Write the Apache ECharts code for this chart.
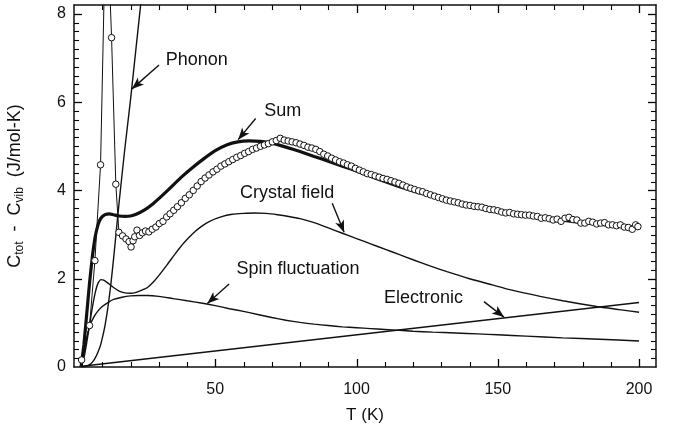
<!DOCTYPE html>
<html>
<head>
<meta charset="utf-8">
<script src="https://cdn.jsdelivr.net/npm/echarts@6/dist/echarts.min.js"></script>
<style>
  html, body { margin: 0; padding: 0; background: #fff; }
  #chart { width: 675px; height: 439px; }
</style>
</head>
<body>
<div id="chart"></div>
<script>
// measured C_tot - C_vib, [T (K), C (J/mol-K)]
const measured = [
  [2.7,0.16],[5.5,0.94],[7.4,2.41],[9.4,4.58],[11.4,10.7],[13.3,7.46],[14.8,4.14],
  [15.9,3.05],[17.2,2.97],[18.4,2.9],[19.5,2.84],[20.2,2.72],[20.9,2.86],[21.5,2.95],
  [22.3,3.1],[23.2,2.98],[24.2,3.04],[25.3,3.08],[26.5,3.06],[27.7,3.12],[29,3.17],
  [30.2,3.25],[31.5,3.3],[32.8,3.4],[34,3.47],[35.3,3.55],[36.6,3.63],[38,3.72],
  [39.4,3.82],[40.8,3.9],[42.2,4.0],[43.6,4.1],[45,4.2],[46.4,4.28],[47.8,4.35],
  [49.2,4.42],[50.6,4.48],[52,4.55],[53.4,4.6],[54.8,4.65],[56.2,4.7],[57.6,4.75],
  [59,4.79],[60.4,4.84],[61.8,4.88],[63.2,4.93],[64.6,4.96],[66,5.0],[67.4,5.03],
  [68.8,5.06],[70.2,5.1],[71.6,5.13],[73,5.18],[74.4,5.14],[75.8,5.12],[77.2,5.1],
  [78.6,5.08],[80,5.05],[81.4,5.02],[82.8,4.98],[84.2,4.96],[85.6,4.93],[87,4.88],
  [88.4,4.82],[89.8,4.78],[91.2,4.73],[92.6,4.69],[94,4.65],[95.4,4.62],[96.8,4.58],
  [98.2,4.55],[99.6,4.5],[101,4.46],[102.4,4.42],[103.8,4.38],[105.2,4.36],[106.6,4.33],
  [108,4.3],[109.4,4.27],[110.8,4.25],[112.2,4.22],[113.6,4.19],[115,4.16],[116.4,4.12],
  [117.8,4.08],[119.2,4.05],[120.6,4.02],[122,3.99],[123.4,3.97],[124.8,3.93],[126.2,3.9],
  [127.6,3.87],[129,3.84],[130.4,3.81],[131.8,3.78],[133.2,3.76],[134.6,3.74],[136,3.72],
  [137.4,3.69],[138.8,3.67],[140.2,3.66],[141.6,3.64],[143,3.63],[144.4,3.62],[145.8,3.59],
  [147.2,3.57],[148.6,3.56],[150,3.54],[151.4,3.51],[152.8,3.49],[154.2,3.5],[155.6,3.47],
  [157,3.46],[158.4,3.45],[159.8,3.44],[161.2,3.44],[162.6,3.42],[164,3.41],[165.4,3.37],
  [166.8,3.38],[168.2,3.36],[169.6,3.33],[171,3.35],[172.4,3.3],[173.8,3.37],[175.2,3.39],
  [176.6,3.34],[178,3.33],[179.4,3.26],[180.8,3.26],[182.2,3.3],[183.6,3.28],[185,3.24],
  [186.4,3.26],[187.8,3.27],[189.2,3.22],[190.6,3.22],[192,3.2],[193.4,3.22],[194.8,3.17],
  [196.2,3.16],[197.6,3.12],[198.8,3.22],[199.6,3.18]
];

const sumFit = [
  [2.5,0],[3.5,0.5],[4.5,1.2],[5.5,1.9],[6.5,2.5],[7.5,2.95],[8.5,3.22],[9.5,3.37],
  [11,3.45],[12.5,3.47],[14,3.45],[16,3.42],[18,3.41],[20,3.42],[22,3.46],[25,3.56],
  [28,3.7],[31,3.87],[34,4.05],[38,4.3],[42,4.52],[46,4.72],[50,4.9],[54,5.03],
  [58,5.1],[62,5.12],[66,5.11],[70,5.07],[75,4.98],[80,4.88],[85,4.77],[90,4.66],
  [95,4.55],[100,4.44],[105,4.32],[110,4.2],[115,4.09],[120,3.99],[125,3.9],[130,3.81],
  [137,3.7],[145,3.6],[150,3.54],[160,3.44],[170,3.35],[180,3.27],[190,3.21],[200,3.17]
];

const crystalField = [
  [2.5,0],[3.5,0.2],[4.5,0.55],[5.5,0.95],[6.5,1.35],[7.5,1.68],[8.5,1.9],[9.5,1.98],
  [10.5,1.97],[12,1.9],[14,1.8],[16,1.72],[18,1.68],[20,1.67],[22,1.69],[24,1.74],
  [26,1.8],[28,1.92],[30,2.07],[33,2.32],[36,2.58],[39,2.82],[42,3.02],[45,3.18],
  [48,3.3],[52,3.4],[56,3.46],[60,3.48],[64,3.49],[68,3.48],[72,3.45],[76,3.41],
  [80,3.36],[85,3.27],[90,3.15],[95,3.03],[100,2.91],[105,2.79],[110,2.67],[115,2.55],
  [120,2.43],[126,2.29],[132,2.16],[140,2.0],[148,1.86],[155,1.74],[165,1.6],[173,1.5],
  [185,1.37],[193,1.3],[200,1.24]
];

const spinFluct = [
  [2.5,0],[3.5,0.3],[4.5,0.65],[5.5,0.92],[7,1.13],[8.5,1.27],[10,1.37],[12,1.46],
  [14,1.53],[17,1.58],[20,1.61],[23,1.62],[26,1.62],[30,1.6],[35,1.55],[40,1.5],
  [45,1.45],[50,1.39],[55,1.32],[60,1.26],[65,1.19],[70,1.12],[75,1.06],[80,1.01],
  [85,0.97],[90,0.94],[95,0.91],[100,0.89],[105,0.87],[110,0.85],[115,0.83],[120,0.81],
  [127,0.79],[135,0.77],[143,0.75],[150,0.73],[160,0.7],[173,0.66],[186,0.63],[200,0.59]
];

const electronic = [[2,0.01],[200,1.46]];

const phonon = [
  [3,0],[5,0.03],[7,0.15],[9,0.42],[10,0.65],[11,0.95],[12,1.35],[13,1.85],[14,2.45],
  [15,3.1],[16,3.75],[18,4.95],[20,6.05],[22,7.25],[24,8.45]
];

// tick values (major ones get labels)
const xMajorTicks = [50, 100, 150, 200];
const xMinorTicks = [10, 20, 30, 40, 60, 70, 80, 90, 110, 120, 130, 140, 160, 170, 180, 190];
const yMajorTicks = [2, 4, 6, 8];
const yMinorTicks = [0.2, 0.4, 0.6, 0.8, 1, 1.2, 1.4, 1.6, 1.8, 2.2, 2.4, 2.6, 2.8, 3, 3.2, 3.4,
  3.6, 3.8, 4.2, 4.4, 4.6, 4.8, 5, 5.2, 5.4, 5.6, 5.8, 6.2, 6.4, 6.6, 6.8, 7, 7.2, 7.4, 7.6, 7.8];

// annotation labels and arrows, in data units
const notes = [
  { text: 'Phonon',           at: [32.5, 6.95], from: [30.1, 6.84], to: [20.5, 6.3] },
  { text: 'Sum',              at: [67.3, 5.79], from: [64.3, 5.63], to: [58.1, 5.15] },
  { text: 'Crystal field',    at: [58.8, 3.94], from: [91.4, 3.71], to: [95.6, 3.05] },
  { text: 'Spin fluctuation', at: [57.5, 2.22], from: [54.9, 1.88], to: [47.2, 1.44] },
  { text: 'Electronic',       at: [109.7, 1.57], from: [145.1, 1.48], to: [152.2, 1.13] }
];

const font = '"Liberation Sans", Arial, Helvetica, sans-serif';
const ink = '#111';

const chart = echarts.init(document.getElementById('chart'));

function frameAxis(extra) {
  return Object.assign({
    type: 'value',
    axisLine: { show: true, onZero: false, lineStyle: { color: ink, width: 1.5 } },
    axisTick: { show: false },
    minorTick: { show: false },
    splitLine: { show: false },
    axisLabel: { show: false }
  }, extra);
}

const xBase = { min: 0, max: 206, interval: 50 };
const yBase = { min: 0, max: 8.2, interval: 2 };

const thin = { color: ink, width: 1.4 };

chart.setOption({
  animation: false,
  backgroundColor: '#fff',
  // keep the plot box fixed; don't let ECharts shrink it to fit the axis name
  grid: { left: 74, right: 19, top: 5, bottom: 72, containLabel: false, outerBoundsMode: 'none' },
  xAxis: [
    frameAxis(Object.assign({}, xBase, {
      position: 'bottom',
      axisLabel: {
        show: true, margin: 15, color: ink, fontFamily: font, fontSize: 16,
        showMinLabel: false, showMaxLabel: false,
        formatter: v => (v % 50 === 0 && v > 0 ? String(v) : '')
      },
      name: 'T (K)', nameLocation: 'middle', nameGap: 40,
      nameTextStyle: { color: ink, fontFamily: font, fontSize: 17 }
    })),
    frameAxis(Object.assign({}, xBase, { position: 'top' }))
  ],
  yAxis: [
    frameAxis(Object.assign({}, yBase, {
      position: 'left',
      axisLabel: {
        show: true, margin: 8, color: ink, fontFamily: font, fontSize: 16,
        showMaxLabel: false,
        formatter: v => (Math.abs(v % 2) < 1e-9 ? String(v) : '')
      },
      name: '{m|C}{s|tot}{m|  -  C}{s|vib}{m|  (J/mol-K)}',
      nameLocation: 'middle', nameRotate: 90, nameGap: 48,
      nameTextStyle: {
        color: ink, fontFamily: font, fontSize: 18,
        rich: {
          m: { color: ink, fontFamily: font, fontSize: 18, lineHeight: 22 },
          s: { color: ink, fontFamily: font, fontSize: 12, lineHeight: 22, padding: [9, 0, 0, 0] }
        }
      }
    })),
    frameAxis(Object.assign({}, yBase, { position: 'right' }))
  ],
  series: [
    {
      name: 'Electronic', type: 'line', data: electronic, showSymbol: false,
      lineStyle: thin,
      markLine: {
        silent: true, symbol: ['none', 'arrow'], symbolSize: [7, 12],
        label: { show: false },
        lineStyle: { color: ink, width: 1.4, type: 'solid' },
        data: notes.map(n => [{ coord: n.from }, { coord: n.to }])
      }
    },
    { name: 'Spin fluctuation', type: 'line', data: spinFluct, showSymbol: false, smooth: 0.2, lineStyle: thin },
    { name: 'Crystal field', type: 'line', data: crystalField, showSymbol: false, smooth: 0.2, lineStyle: thin },
    { name: 'Phonon', type: 'line', data: phonon, showSymbol: false, smooth: 0.2, lineStyle: thin },
    { name: 'Sum', type: 'line', data: sumFit, showSymbol: false, smooth: 0.2, lineStyle: { color: ink, width: 3.2 } },
    {
      name: 'Measured', type: 'line', data: measured,
      symbol: 'circle', symbolSize: 6.5, showAllSymbol: true,
      itemStyle: { color: '#fff', borderColor: ink, borderWidth: 1 },
      lineStyle: { color: ink, width: 1 }
    }
  ]
});

// inward ticks on all four sides, placed through the chart's scales
const lo = chart.convertToPixel({ gridIndex: 0 }, [xBase.min, yBase.min]);
const hi = chart.convertToPixel({ gridIndex: 0 }, [xBase.max, yBase.max]);
function tick(x1, y1, x2, y2, w) {
  return { type: 'line', silent: true, z: 50, shape: { x1, y1, x2, y2 }, style: { stroke: '#000', lineWidth: w } };
}
const ticks = [];
[[xMajorTicks, 8, 1.3], [xMinorTicks, 5, 1.1]].forEach(([vals, len, w]) => {
  vals.forEach(v => {
    const px = Math.round(chart.convertToPixel({ xAxisIndex: 0 }, v)) + 0.5;
    ticks.push(tick(px, lo[1], px, lo[1] - len, w));
    ticks.push(tick(px, hi[1], px, hi[1] + len, w));
  });
});
[[yMajorTicks, 8, 1.3], [yMinorTicks, 5, 1.1]].forEach(([vals, len, w]) => {
  vals.forEach(v => {
    const py = Math.round(chart.convertToPixel({ yAxisIndex: 0 }, v)) + 0.5;
    ticks.push(tick(lo[0], py, lo[0] + len, py, w));
    ticks.push(tick(hi[0], py, hi[0] - len, py, w));
  });
});

// annotation text
const labels = notes.map(n => {
  const p = chart.convertToPixel({ gridIndex: 0 }, n.at);
  return {
    type: 'text', x: p[0], y: p[1], silent: true,
    style: { text: n.text, fill: ink, font: '18px ' + font, verticalAlign: 'middle' }
  };
});

chart.setOption({ graphic: ticks.concat(labels) });
</script>
</body>
</html>
